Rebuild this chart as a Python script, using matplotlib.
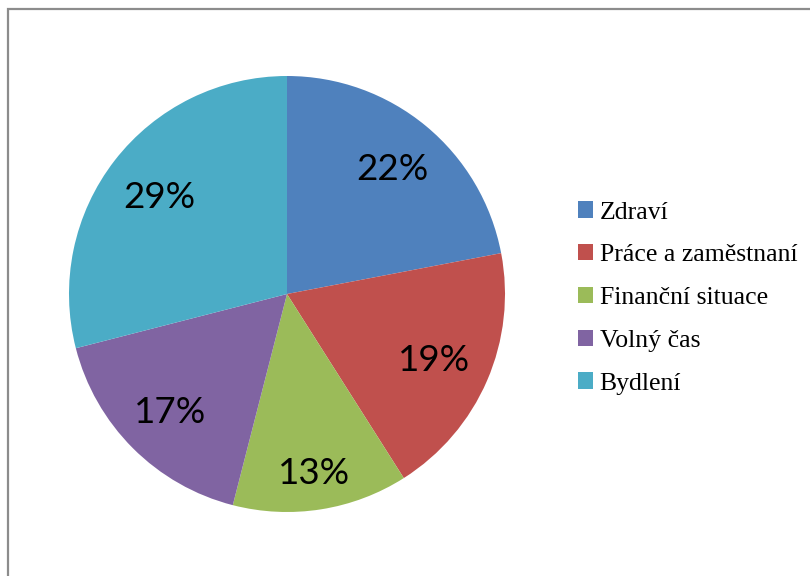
import numpy as np
import matplotlib
matplotlib.use("Agg")
import matplotlib.pyplot as plt
from matplotlib.patches import Rectangle, Patch
from matplotlib.textpath import TextPath
from matplotlib.font_manager import FontProperties

categories = ["Zdraví", "Práce a zaměstnaní", "Finanční situace", "Volný čas", "Bydlení"]
values = [22, 19, 13, 17, 29]
colors = ["#4F81BD", "#C0504D", "#9BBB59", "#8064A2", "#4BACC6"]

W, H = 810, 576
DPI = 100
fig = plt.figure(figsize=(W / DPI, H / DPI), dpi=DPI)
fig.patch.set_facecolor("white")

# outer frame
fig.add_artist(Rectangle((7.5 / W, -0.2), 2.0, 1.2 - 8.5 / H, transform=fig.transFigure,
                         fill=False, edgecolor="#8C8C8C", linewidth=1.6))

cx, cy, r = 287, 294, 218
ax = fig.add_axes([(cx - r) / W, (H - cy - r) / H, 2 * r / W, 2 * r / H])
wedges, texts = ax.pie(values, colors=colors, startangle=90, counterclock=False,
                       radius=1, wedgeprops=dict(linewidth=0))
ax.set_xlim(-1, 1)
ax.set_ylim(-1, 1)
ax.set_aspect("equal")
ax.axis("off")

# percentage labels, placed Excel-like: outer edge of the ink box at a fixed radius
fsize = 26.5
fp = FontProperties(family="Lato", size=fsize)
px_per_unit = r  # one data unit = r pixels
outer = 0.905
total = sum(values)
for w, v in zip(wedges, values):
    s = f"{round(100 * v / total)}%"
    ext = TextPath((0, 0), s, prop=fp).get_extents()  # in points
    k = DPI / 72.0 / px_per_unit  # points -> data units
    x0, y0, x1, y1 = ext.x0 * k, ext.y0 * k, ext.x1 * k, ext.y1 * k
    hw, hh = (x1 - x0) / 2, (y1 - y0) / 2
    ang = np.deg2rad((w.theta1 + w.theta2) / 2)
    dx, dy = np.cos(ang), np.sin(ang)
    d = outer - (hw * abs(dx) + hh * abs(dy))
    ccx, ccy = d * dx, d * dy
    ax.text(ccx - (x0 + hw), ccy - (y0 + hh), s, fontproperties=fp,
            ha="left", va="baseline", color="black")

handles = [Patch(facecolor=c, edgecolor="none") for c in colors]
leg = fig.legend(handles, categories, loc="center left",
                 bbox_to_anchor=(565 / W, 1 - 298 / H), frameon=False,
                 prop=dict(family="Liberation Serif", size=18.5),
                 handlelength=0.6, handleheight=0.6, handletextpad=0.25,
                 labelspacing=0.8, borderpad=0)

fig.savefig("out.png", dpi=DPI, facecolor="white")
